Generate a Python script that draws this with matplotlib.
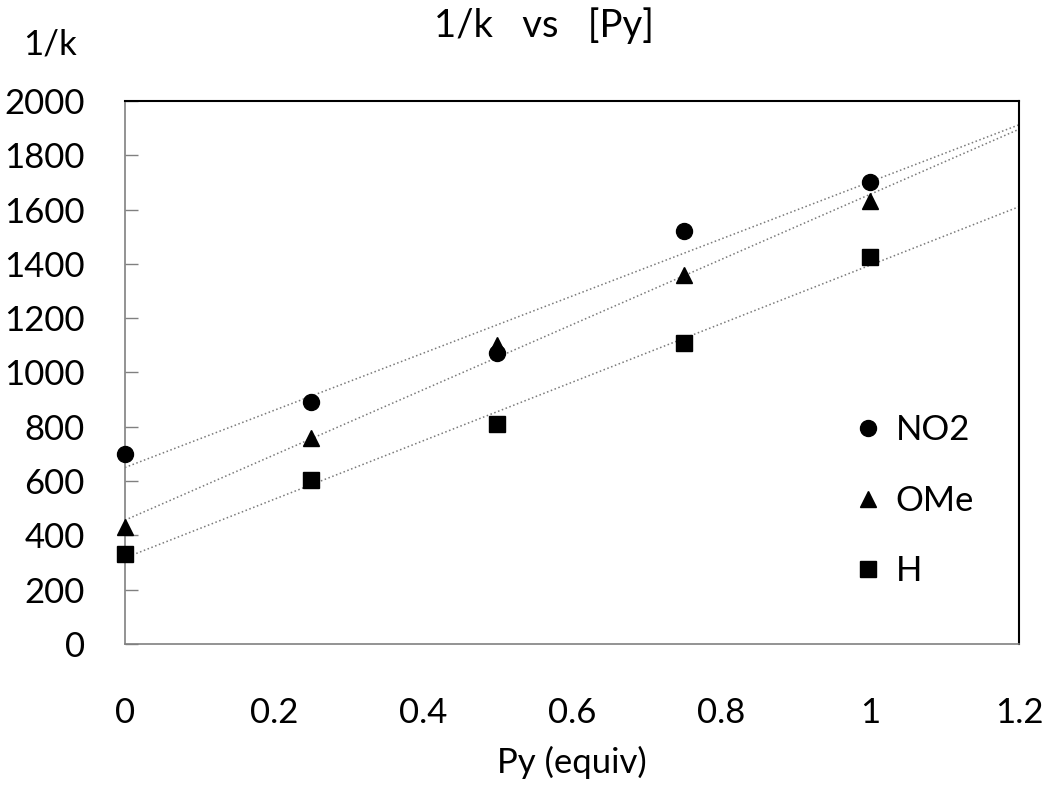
import numpy as np
import matplotlib.pyplot as plt

plt.rcParams['font.family'] = ['Lato', 'DejaVu Sans']

py = [0, 0.25, 0.5, 0.75, 1.0]
no2 = [700, 890, 1070, 1520, 1700]
ome = [430, 760, 1100, 1360, 1630]
h = [330, 605, 810, 1110, 1425]

series = [('NO2', no2, 'o'), ('OMe', ome, '^'), ('H', h, 's')]
xfit = np.array([0, 1.2])

fig = plt.figure(figsize=(10.5, 7.86), dpi=100)
ax = fig.add_axes([0.119, 0.1807, 0.8515, 0.6908])

for name, y, m in series:
    k, b = np.polyfit(py, y, 1)
    ax.plot(xfit, k*xfit + b, ls=':', color='#7a7a7a', lw=1.1, zorder=2)
for name, y, m in series:
    ax.plot(py, y, m, color='black', ms=11.5, ls='none', label=name, zorder=3, clip_on=False)

ax.set_xlim(0, 1.2)
ax.set_ylim(0, 2000)
ax.set_xticks([0, 0.2, 0.4, 0.6, 0.8, 1.0, 1.2])
ax.set_xticklabels(['0', '0.2', '0.4', '0.6', '0.8', '1', '1.2'])
ax.set_yticks(range(0, 2001, 200))
ax.tick_params(axis='y', direction='in', length=9, width=1, color='#808080', pad=29, labelsize=25)
ax.tick_params(axis='x', length=0, pad=38, labelsize=25)
for s in ['left', 'bottom']:
    ax.spines[s].set_color('#808080')
    ax.spines[s].set_linewidth(1.2)
for s in ['top', 'right']:
    ax.spines[s].set_color('black')
    ax.spines[s].set_linewidth(1.5)

ax.legend(loc='upper left', bbox_to_anchor=(0.80, 0.455), frameon=False, fontsize=25,
          handlelength=0.6, handletextpad=0.5, labelspacing=1.11, borderpad=0)

fig.text(0.518, 0.968, '1/k   vs   [Py]', ha='center', va='center', fontsize=27.5)
fig.text(0.048, 0.943, '1/k', ha='center', va='center', fontsize=25)
ax.set_xlabel('Py (equiv)', fontsize=25, labelpad=12)

fig.savefig('out.png', dpi=100)
